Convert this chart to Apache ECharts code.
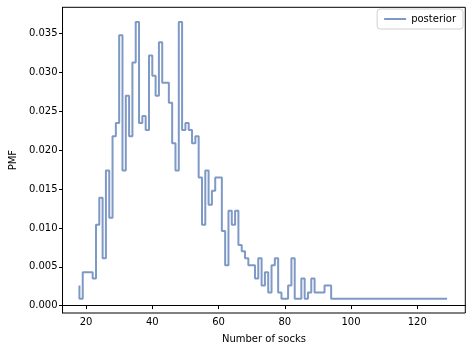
<!DOCTYPE html>
<html>
<head>
<meta charset="utf-8">
<script src="https://cdn.jsdelivr.net/npm/echarts@6/dist/echarts.min.js"></script>
<style>
  html, body { margin: 0; padding: 0; background: #fff; }
  #chart { width: 472px; height: 352px; }
</style>
</head>
<body>
<div id="chart"></div>
<script>
// posterior PMF of the number of socks (step, where='pre')
const socks = [18, 19, 22, 23, 24, 25, 26, 27, 28, 29, 30, 31, 32, 33, 34, 35, 36, 37, 38, 39,
  40, 41, 42, 43, 45, 46, 47, 48, 49, 50, 51, 52, 53, 54, 55, 56, 57, 58, 59, 61,
  62, 63, 64, 65, 66, 67, 68, 69, 71, 72, 73, 74, 75, 76, 77, 78, 79, 81, 82, 83,
  85, 86, 87, 88, 89, 92, 94, 129];
const pmf = [0.0026, 0.0009, 0.0043, 0.0035, 0.0104, 0.0139, 0.0061, 0.0174, 0.0113, 0.0218,
  0.0235, 0.0348, 0.0174, 0.0270, 0.0218, 0.0313, 0.0365, 0.0235, 0.0244, 0.0226,
  0.0322, 0.0296, 0.0270, 0.0339, 0.0287, 0.0261, 0.0209, 0.0174, 0.0365, 0.0226,
  0.0235, 0.0226, 0.0209, 0.0218, 0.0165, 0.0104, 0.0174, 0.0130, 0.0148, 0.0165,
  0.0096, 0.0052, 0.0122, 0.0104, 0.0122, 0.0078, 0.0070, 0.0061, 0.0052, 0.0035,
  0.0061, 0.0026, 0.0043, 0.0017, 0.0052, 0.0061, 0.0017, 0.0009, 0.0026, 0.0061,
  0.0009, 0.0035, 0.0009, 0.0017, 0.0035, 0.0017, 0.0026, 0.0009];
const xTicks = [20, 40, 60, 80, 100, 120];
const yTicks = [0, 0.005, 0.01, 0.015, 0.02, 0.025, 0.03, 0.035];

const chart = echarts.init(document.getElementById("chart"));
const font = { fontFamily: "DejaVu Sans", fontSize: 10, color: "#000" };
const lineColor = "#4c72b0";

chart.setOption({
  animation: false,
  grid: {
    left: 60.5, right: 6.7, top: 7.3, bottom: 39,
    show: true, borderColor: "#000", borderWidth: 1
  },
  legend: {
    data: ["posterior"],
    right: 9, top: 9,
    icon: "rect", itemWidth: 22, itemHeight: 2, itemGap: 8,
    padding: [5, 7, 5, 7],
    borderColor: "#d0d0d0", borderWidth: 1, borderRadius: 3,
    textStyle: font
  },
  xAxis: {
    type: "value", min: 12.9, max: 134.5,
    name: "Number of socks", nameLocation: "middle", nameGap: 21,
    nameTextStyle: font,
    axisLine: { show: true, lineStyle: { color: "#000" } },
    axisTick: { show: true, length: 3.5, customValues: xTicks, lineStyle: { color: "#000" } },
    axisLabel: { customValues: xTicks, margin: 4, ...font },
    splitLine: { show: false }
  },
  yAxis: {
    type: "value", min: -0.00095, max: 0.0384,
    name: "PMF", nameLocation: "middle", nameGap: 41,
    nameTextStyle: font,
    axisLine: { show: true, lineStyle: { color: "#000" } },
    axisTick: { show: true, length: 3.5, customValues: yTicks, lineStyle: { color: "#000" } },
    axisLabel: {
      customValues: yTicks, margin: 5, ...font,
      formatter: (v) => v.toFixed(3)
    },
    splitLine: { show: false }
  },
  series: [
    {
      name: "posterior",
      type: "line",
      step: "start",
      showSymbol: false,
      symbol: "none",
      data: socks.map((n, i) => [n, pmf[i]]),
      lineStyle: { color: lineColor, width: 2, opacity: 0.72 },
      itemStyle: { color: lineColor, opacity: 0.72 }
    }
  ]
});
</script>
</body>
</html>
